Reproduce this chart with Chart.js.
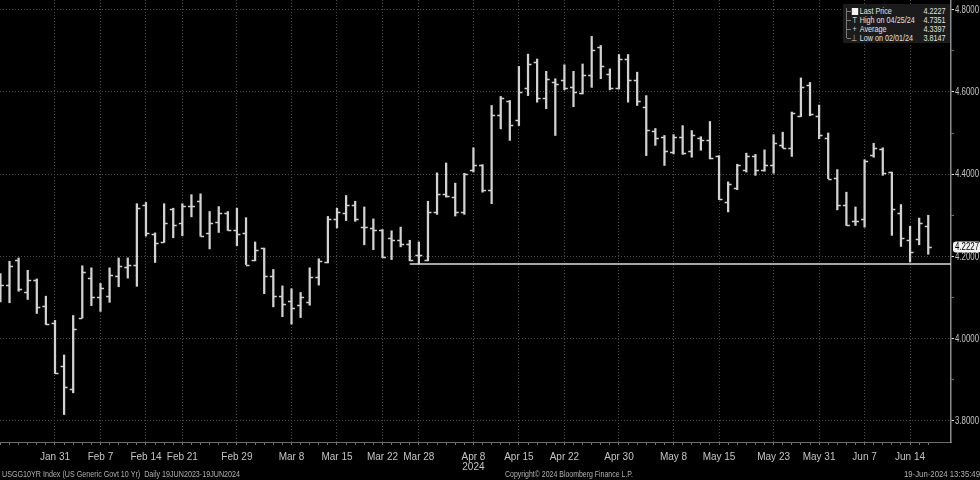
<!DOCTYPE html>
<html>
<head>
<meta charset="utf-8">
<script src="https://cdn.jsdelivr.net/npm/chart.js@4.4.1/dist/chart.umd.min.js"></script>
<style>
html, body { margin: 0; padding: 0; background: #000; }
#wrap { position: relative; width: 980px; height: 480px; overflow: hidden; background: #000; }
#chart { position: absolute; left: 0; top: 0; }
.txt { position: absolute; color: #b0b0b0; font-family: 'Liberation Sans', Arial, sans-serif; font-size: 9px; line-height: 10px; white-space: nowrap; transform-origin: 0 50%; }
#legend { position: absolute; left: 843px; top: 4px; width: 107px; height: 39px; background: #1b1b1b; overflow: hidden; }
.lrow { position: absolute; left: 0; width: 134px; height: 9px; font-family: 'Liberation Sans', Arial, sans-serif; font-size: 9px; line-height: 9px; color: #e2e2e2; transform: scaleX(0.8); transform-origin: 0 0; }
.lrow .lab { position: absolute; left: 21px; }
.lrow .val { position: absolute; right: 6px; }
.lrow .ico { position: absolute; left: 10px; top: 0; width: 9px; height: 9px; color: #cfcfcf; font-size: 9px; text-align: center; }
#tree { position: absolute; left: 3px; top: 4px; width: 4px; height: 30px; border-left: 1px solid #7a7a7a; }
.branch { position: absolute; left: 4px; width: 4px; height: 1px; background: #7a7a7a; }
</style>
</head>
<body>
<div id="wrap">
  <canvas id="chart" width="980" height="480"></canvas>
  <div id="legend"></div>
  <div class="txt" id="foot-left" style="left:2px; top:469px;">USGG10YR Index (US Generic Govt 10 Yr)&nbsp; Daily 19JUN2023-19JUN2024</div>
  <div class="txt" id="foot-mid" style="left:505px; top:469px;">Copyright© 2024 Bloomberg Finance L.P.</div>
  <div class="txt" id="foot-right" style="left:904px; top:469px;">19-Jun-2024 13:35:49</div>
</div>
<script>
// Colours
const COLORS = {
    bar: '#d2d2d2',
    grid: '#4c4c4c',
    axis: '#8c8c8c',
    text: '#c4c4c4',
    minorTick: '#6e6e6e'
};
const FONT = "'Liberation Sans', Arial, sans-serif";

// Trading days shown on the chart
const days = [
    'Jan 23','Jan 24','Jan 25','Jan 26','Jan 29','Jan 30','Jan 31','Feb 1','Feb 2','Feb 5',
    'Feb 6','Feb 7','Feb 8','Feb 9','Feb 12','Feb 13','Feb 14','Feb 15','Feb 16','Feb 20',
    'Feb 21','Feb 22','Feb 23','Feb 26','Feb 27','Feb 28','Feb 29','Mar 1','Mar 4','Mar 5',
    'Mar 6','Mar 7','Mar 8','Mar 11','Mar 12','Mar 13','Mar 14','Mar 15','Mar 18','Mar 19',
    'Mar 20','Mar 21','Mar 22','Mar 25','Mar 26','Mar 27','Mar 28','Apr 1','Apr 2','Apr 3',
    'Apr 4','Apr 5','Apr 8','Apr 9','Apr 10','Apr 11','Apr 12','Apr 15','Apr 16','Apr 17',
    'Apr 18','Apr 19','Apr 22','Apr 23','Apr 24','Apr 25','Apr 26','Apr 29','Apr 30','May 1',
    'May 2','May 3','May 6','May 7','May 8','May 9','May 10','May 13','May 14','May 15',
    'May 16','May 17','May 20','May 21','May 22','May 23','May 24','May 28','May 29','May 30',
    'May 31','Jun 3','Jun 4','Jun 5','Jun 6','Jun 7','Jun 10','Jun 11','Jun 12','Jun 13',
    'Jun 14','Jun 17','Jun 18'
];

const opens = [
    4.140,4.131,4.192,4.113,4.143,4.079,4.038,3.934,3.876,4.050,
    4.147,4.101,4.104,4.153,4.174,4.180,4.326,4.254,4.235,4.315,
    4.281,4.323,4.334,4.257,4.283,4.305,4.265,4.257,4.190,4.219,
    4.152,4.104,4.091,4.081,4.089,4.150,4.186,4.291,4.305,4.324,
    4.271,4.270,4.263,4.245,4.239,4.229,4.202,4.190,4.308,4.352,
    4.344,4.308,4.409,4.421,4.362,4.543,4.577,4.532,4.610,4.672,
    4.585,4.623,4.628,4.613,4.597,4.642,4.710,4.644,4.610,4.680,
    4.628,4.564,4.505,4.491,4.453,4.490,4.456,4.488,4.483,4.445,
    4.332,4.366,4.411,4.445,4.411,4.421,4.472,4.464,4.542,4.618,
    4.542,4.488,4.391,4.326,4.285,4.291,4.447,4.462,4.405,4.305,
    4.240,4.243,4.273
];
const highs = [
    4.158,4.188,4.196,4.166,4.145,4.103,4.044,3.960,4.056,4.177,
    4.172,4.134,4.172,4.196,4.196,4.328,4.331,4.257,4.328,4.317,
    4.328,4.350,4.352,4.309,4.321,4.309,4.317,4.294,4.235,4.220,
    4.168,4.128,4.121,4.112,4.172,4.194,4.297,4.317,4.348,4.334,
    4.320,4.291,4.265,4.262,4.271,4.239,4.235,4.334,4.403,4.427,
    4.378,4.402,4.464,4.423,4.567,4.589,4.579,4.662,4.692,4.680,
    4.650,4.632,4.666,4.650,4.668,4.735,4.713,4.656,4.691,4.691,
    4.648,4.591,4.511,4.494,4.496,4.518,4.506,4.491,4.528,4.445,
    4.381,4.424,4.451,4.448,4.459,4.496,4.502,4.551,4.634,4.623,
    4.568,4.500,4.411,4.356,4.320,4.435,4.475,4.464,4.405,4.326,
    4.273,4.293,4.300
];
const lows = [
    4.089,4.087,4.115,4.095,4.061,4.034,3.915,3.815,3.868,4.050,
    4.080,4.066,4.088,4.126,4.147,4.127,4.249,4.185,4.234,4.245,
    4.250,4.296,4.249,4.218,4.258,4.263,4.226,4.180,4.189,4.109,
    4.077,4.053,4.035,4.051,4.081,4.130,4.184,4.269,4.287,4.285,
    4.228,4.216,4.197,4.192,4.223,4.189,4.181,4.189,4.302,4.344,
    4.298,4.302,4.405,4.356,4.328,4.510,4.482,4.518,4.591,4.575,
    4.559,4.494,4.605,4.564,4.595,4.611,4.632,4.605,4.607,4.575,
    4.567,4.445,4.470,4.421,4.449,4.448,4.441,4.458,4.437,4.338,
    4.308,4.362,4.405,4.397,4.407,4.402,4.464,4.443,4.540,4.542,
    4.486,4.389,4.313,4.275,4.275,4.271,4.441,4.397,4.251,4.224,
    4.186,4.228,4.205
];
const closes = [
    4.130,4.177,4.121,4.142,4.077,4.036,3.915,3.883,4.022,4.161,
    4.100,4.123,4.155,4.176,4.180,4.317,4.257,4.232,4.281,4.277,
    4.323,4.323,4.249,4.281,4.305,4.265,4.254,4.180,4.215,4.152,
    4.103,4.083,4.074,4.101,4.150,4.189,4.291,4.308,4.324,4.291,
    4.271,4.265,4.198,4.239,4.231,4.190,4.202,4.309,4.351,4.346,
    4.308,4.401,4.421,4.362,4.543,4.585,4.520,4.599,4.668,4.585,
    4.632,4.619,4.610,4.599,4.642,4.702,4.662,4.610,4.680,4.628,
    4.579,4.508,4.487,4.456,4.490,4.451,4.496,4.483,4.439,4.340,
    4.375,4.421,4.445,4.411,4.421,4.475,4.464,4.548,4.611,4.547,
    4.496,4.389,4.326,4.275,4.286,4.433,4.464,4.402,4.316,4.245,
    4.210,4.281,4.2227
];

// Axis labels
const axisDates = ['Jan 31','Feb 7','Feb 14','Feb 21','Feb 29','Mar 8','Mar 15','Mar 22','Mar 28',
    'Apr 8','Apr 15','Apr 22','Apr 30','May 8','May 15','May 23','May 31','Jun 7','Jun 14'];
const yearDate = 'Apr 8';
const yearLabel = '2024';
const yTickValues = [3.8, 3.9, 4.0, 4.1, 4.2, 4.3, 4.4, 4.5, 4.6, 4.7, 4.8];

// Horizontal support line drawn on the chart
const supportLevel = 4.181;
const supportStart = 'Mar 27';

// Legend box
const legendLabels = ['Last Price', 'High on 04/25/24', 'Average', 'Low on 02/01/24'];
const legendValues = ['4.2227', '4.7351', '4.3397', '3.8147'];
const lastPrice = 4.2227;

// visible ranges
const X_MIN = -0.046, X_MAX = 104.50;
const Y_MIN = 3.7482, Y_MAX = 4.8236;

const axisIdx = axisDates.map(d => days.indexOf(d));
const isMajorY = v => Math.round(v * 10) % 2 === 0;

// draws text squeezed to a maximum width (the Bloomberg font is narrow)
function narrowText(ctx, str, x, y, maxW) {
    const w = ctx.measureText(str).width;
    const k = Math.min(1, maxW / w);
    ctx.save();
    ctx.translate(x, y);
    ctx.scale(k, 1);
    ctx.fillText(str, 0, 0);
    ctx.restore();
}

// Open / close side ticks, drawn with the chart's own scales
const ohlcTicks = {
    id: 'ohlcTicks',
    afterDatasetsDraw(chart) {
        const { ctx, chartArea, scales: { x, y } } = chart;
        ctx.save();
        ctx.beginPath();
        ctx.rect(chartArea.left, chartArea.top, chartArea.width, chartArea.height);
        ctx.clip();
        ctx.strokeStyle = COLORS.bar;
        ctx.lineWidth = 1.4;
        ctx.beginPath();
        days.forEach((d, i) => {
            const px = x.getPixelForValue(i);
            const yo = Math.round(y.getPixelForValue(opens[i])) + 0.5;
            const yc = Math.round(y.getPixelForValue(closes[i])) + 0.5;
            ctx.moveTo(px - 3.5, yo); ctx.lineTo(px, yo);
            ctx.moveTo(px, yc); ctx.lineTo(px + 3.5, yc);
        });
        ctx.stroke();
        ctx.restore();
    }
};

// Right axis labels and last price tag
const rightAxis = {
    id: 'rightAxis',
    afterDraw(chart) {
        const { ctx, scales: { y } } = chart;
        ctx.save();
        ctx.font = '10px ' + FONT;
        ctx.textBaseline = 'middle';
        ctx.textAlign = 'left';
        ctx.fillStyle = COLORS.text;
        yTickValues.filter(isMajorY).forEach(v => {
            narrowText(ctx, v.toFixed(4), y.left + 4, y.getPixelForValue(v) + 0.5, 24);
        });

        const py = y.getPixelForValue(lastPrice);
        const x0 = y.left + 2, w = 28, h = 11;
        ctx.fillStyle = '#f2f2f2';
        ctx.beginPath();
        ctx.roundRect(x0, py - h / 2, w, h, 3);
        ctx.fill();
        ctx.fillStyle = '#000';
        narrowText(ctx, legendValues[0], x0 + 2, py + 0.5, 24);
        ctx.restore();
    }
};

Chart.defaults.font.family = FONT;
Chart.defaults.color = COLORS.text;

new Chart(document.getElementById('chart').getContext('2d'), {
    type: 'bar',
    data: {
        datasets: [
            {
                type: 'line',
                data: [{ x: days.indexOf(supportStart), y: supportLevel }, { x: X_MAX, y: supportLevel }],
                borderColor: '#dcdcdc',
                borderWidth: 1.5,
                pointRadius: 0,
                order: 2
            },
            {
                type: 'bar',
                data: days.map((d, i) => ({ x: i, y: [lows[i], highs[i]] })),
                backgroundColor: COLORS.bar,
                borderWidth: 0,
                barThickness: 1.6,
                grouped: false,
                order: 1
            }
        ]
    },
    options: {
        responsive: false,
        animation: false,
        devicePixelRatio: 1,
        layout: { padding: 0 },
        plugins: { legend: { display: false }, tooltip: { enabled: false } },
        scales: {
            x: {
                type: 'linear',
                min: X_MIN,
                max: X_MAX,
                offset: false,
                afterBuildTicks: s => { s.ticks = days.map((d, i) => ({ value: i })); },
                afterFit: s => { s.height = 38; s.paddingLeft = 0; s.paddingRight = 0; },
                grid: {
                    offset: false,
                    color: c => (c.tick && axisIdx.includes(c.tick.value)) ? COLORS.grid : 'rgba(0,0,0,0)',
                    tickColor: COLORS.minorTick,
                    tickLength: 3,
                    lineWidth: 1
                },
                border: { display: true, color: '#6c6c6c', dash: [1, 2] },
                ticks: {
                    autoSkip: false,
                    maxRotation: 0,
                    minRotation: 0,
                    padding: 7,
                    color: COLORS.text,
                    font: { size: 10, lineHeight: 1.0 },
                    callback: v => {
                        const k = axisIdx.indexOf(v);
                        if (k < 0) return '';
                        return axisDates[k] === yearDate ? [axisDates[k], yearLabel] : axisDates[k];
                    }
                }
            },
            y: {
                type: 'linear',
                position: 'right',
                min: Y_MIN,
                max: Y_MAX,
                afterBuildTicks: s => { s.ticks = yTickValues.map(v => ({ value: v })); },
                afterFit: s => { s.width = 29; s.paddingTop = 0; s.paddingBottom = 0; },
                grid: {
                    color: c => (c.tick && isMajorY(c.tick.value)) ? COLORS.grid : 'rgba(0,0,0,0)',
                    tickColor: c => (c.tick && isMajorY(c.tick.value)) ? '#e6e6e6' : COLORS.minorTick,
                    tickLength: 3,
                    lineWidth: 1
                },
                border: { display: true, color: COLORS.axis, width: 1.5, dash: [1, 2] },
                ticks: { display: false }
            }
        }
    },
    plugins: [ohlcTicks, rightAxis]
});

// Legend box (top right)
const legend = document.getElementById('legend');
const icons = ['', 'T', '+', '\u22A5'];
let html = '<div id="tree"></div>';
legendLabels.forEach((lab, i) => {
    const top = 3 + i * 9;
    html += '<div class="branch" style="top:' + (top + 4) + 'px"></div>';
    const ico = i === 0
        ? '<div class="ico"><div style="position:absolute;left:1px;top:1px;width:8px;height:7px;background:#f4f4f4"></div></div>'
        : '<div class="ico">' + icons[i] + '</div>';
    html += '<div class="lrow" style="top:' + top + 'px">' + ico +
        '<span class="lab">' + lab + '</span><span class="val">' + legendValues[i] + '</span></div>';
});
legend.innerHTML = html;

// squeeze footer texts to the widths of the reference
const footWidths = { 'foot-left': 238, 'foot-mid': 128, 'foot-right': 76 };
Object.keys(footWidths).forEach(id => {
    const el = document.getElementById(id);
    const w = el.getBoundingClientRect().width;
    if (w > 0) el.style.transform = 'scaleX(' + (footWidths[id] / w) + ')';
});
</script>
</body>
</html>
